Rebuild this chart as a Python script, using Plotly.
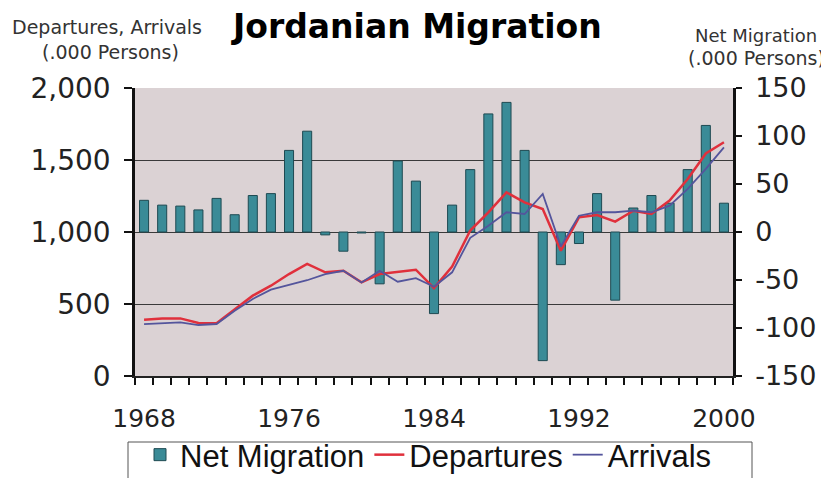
import plotly.graph_objects as go

years = list(range(1968, 2001))
net_migration = [33, 28, 27, 23, 35, 18, 38, 40, 85, 105, -3, -20, -1, -54, 74, 53,
                 -85, 28, 65, 123, 135, 85, -134, -34, -12, 40, -71, 25, 38, 30, 65, 111, 30]
departures = [391, 400, 400, 368, 366, 465, 558, 627, 708, 778, 720, 731, 650, 708, 725, 738,
              610, 760, 1010, 1137, 1275, 1206, 1160, 870, 1102, 1118, 1072, 1148, 1125, 1218, 1368, 1545, 1623]
arrivals = [360, 368, 372, 354, 361, 453, 535, 600, 630, 665, 708, 731, 650, 731, 655, 680,
            620, 720, 960, 1044, 1137, 1125, 1264, 900, 1113, 1137, 1137, 1148, 1137, 1183, 1299, 1438, 1588]
x_ticks = [1968, 1976, 1984, 1992, 2000]
left_ticks = [0, 500, 1000, 1500, 2000]
right_ticks = [-150, -100, -50, 0, 50, 100, 150]

# the page body has an 8px margin; work in window pixels and shift
OFF = 8
WIN_W, WIN_H = 829, 478
W, H = WIN_W - OFF, WIN_H - OFF
PL, PR, PT, PB = 135, 733, 88, 376  # plot area in window pixels
L, R, T, B = PL - OFF, W - (PR - OFF), PT - OFF, H - (PB - OFF)
PW, PH = PR - PL, PB - PT


def px(x):
    return (x - PL) / PW


def py(y):
    return (PB - y) / PH


TICKFONT = "DejaVu Sans"

fig = go.Figure()
fig.add_trace(go.Bar(
    x=years, y=net_migration, name="Net Migration", yaxis="y", width=0.5,
    marker=dict(color="#3a8b97", line=dict(color="#1e4a52", width=1)),
))
fig.add_trace(go.Scatter(
    x=years, y=departures, name="Departures", yaxis="y2", mode="lines",
    line=dict(color="#e0303c", width=2.5),
))
fig.add_trace(go.Scatter(
    x=years, y=arrivals, name="Arrivals", yaxis="y2", mode="lines",
    line=dict(color="#54559c", width=1.8),
))

fig.update_layout(
    width=W, height=H,
    margin=dict(l=L, r=R, t=T, b=B, autoexpand=False),
    paper_bgcolor="white",
    plot_bgcolor="#dbd2d4",
    showlegend=True,
    legend=dict(
        orientation="h", x=px(140), xanchor="left", y=py(428), yanchor="top",
        borderwidth=0, bgcolor="rgba(0,0,0,0)",
        font=dict(family="Liberation Sans", size=31, color="#111111"),
        traceorder="normal",
    ),
    shapes=[dict(
        type="rect", xref="paper", yref="paper",
        x0=px(128), x1=px(752), y0=py(442), y1=py(500),
        line=dict(color="#555555", width=1), fillcolor="rgba(0,0,0,0)",
        layer="below",
    )],
    xaxis=dict(
        range=[1967.5, 2000.5],
        tickmode="array", tickvals=x_ticks, ticktext=[str(v) for v in x_ticks],
        ticks="outside", ticklen=7, tickcolor="rgba(0,0,0,0)",
        ticklabelstandoff=12,
        minor=dict(tickmode="linear", tick0=1967.5, dtick=1, ticks="outside",
                   ticklen=7, tickwidth=1.5, tickcolor="#111111", showgrid=False),
        showgrid=False, zeroline=False,
        showline=True, linecolor="#222222", linewidth=2,
        tickfont=dict(family=TICKFONT, size=25, color="#222222"),
    ),
    yaxis=dict(
        side="right", range=[-150, 150],
        tickmode="array", tickvals=right_ticks, ticktext=[str(v) for v in right_ticks],
        ticks="outside", ticklen=6, tickwidth=1.5, tickcolor="#111111",
        ticklabelstandoff=8,
        showgrid=False, zeroline=False,
        showline=True, linecolor="#111111", linewidth=2.5,
        tickfont=dict(family=TICKFONT, size=27, color="#222222"),
    ),
    yaxis2=dict(
        overlaying="y", side="left", range=[0, 2000],
        tickmode="array", tickvals=left_ticks, tickformat=",",
        ticks="outside", ticklen=8, tickwidth=1.5, tickcolor="#111111",
        ticklabelstandoff=8,
        showgrid=False, zeroline=False,
        minor=dict(tickmode="array", tickvals=[500, 1000, 1500], showgrid=True,
                   gridcolor="#3a3a3a", gridwidth=1, ticks=""),
        showline=True, linecolor="#111111", linewidth=2.5,
        tickfont=dict(family=TICKFONT, size=28, color="#222222"),
    ),
)

ann = [
    ("<b>Jordanian Migration</b>", 416, 26, 33, "#000000"),
    ("Departures, Arrivals", 107, 27, 19, "#333333"),
    ("(.000 Persons)", 110, 52, 19, "#333333"),
    ("Net Migration", 756, 35, 18, "#333333"),
    ("(.000 Persons)", 756, 58, 19, "#333333"),
]
for text, x, y, size, color in ann:
    fig.add_annotation(
        text=text, x=px(x), y=py(y), xref="paper", yref="paper",
        xanchor="center", yanchor="middle", showarrow=False,
        font=dict(family="DejaVu Sans", size=size, color=color),
    )

fig.write_html("out.html")
